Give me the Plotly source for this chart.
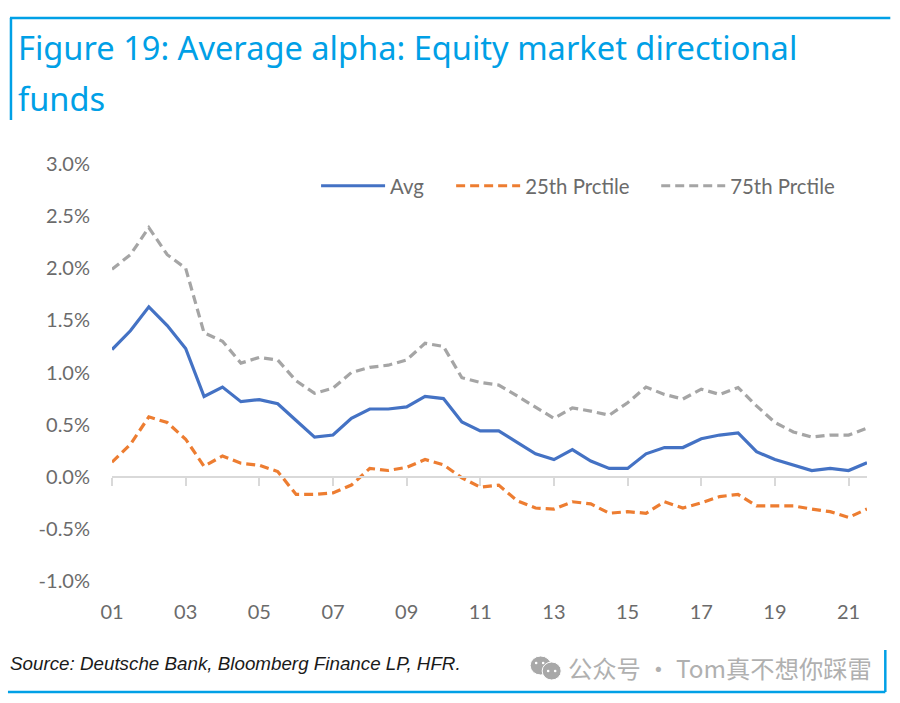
import plotly.graph_objects as go

W, H = 900, 703
L, R, T, B = 112, 33.3, 164, 122

years = [2001 + 0.5 * i for i in range(42)]
avg = [1.22, 1.40, 1.63, 1.45, 1.23, 0.77, 0.86, 0.72, 0.74, 0.70, 0.54, 0.38, 0.40, 0.56,
       0.65, 0.65, 0.67, 0.77, 0.75, 0.525, 0.44, 0.44, 0.33, 0.22, 0.165, 0.26, 0.15, 0.08,
       0.08, 0.22, 0.28, 0.28, 0.365, 0.40, 0.42, 0.24, 0.165, 0.11, 0.06, 0.08, 0.06, 0.135]
p25 = [0.14, 0.31, 0.575, 0.52, 0.36, 0.10, 0.20, 0.13, 0.11, 0.05, -0.17, -0.17, -0.155, -0.08,
       0.08, 0.06, 0.09, 0.165, 0.115, -0.01, -0.10, -0.08, -0.23, -0.30, -0.31, -0.24, -0.26, -0.35,
       -0.335, -0.35, -0.24, -0.30, -0.25, -0.19, -0.17, -0.28, -0.28, -0.28, -0.31, -0.335, -0.39, -0.31]
p75 = [1.99, 2.13, 2.39, 2.13, 2.00, 1.38, 1.30, 1.09, 1.145, 1.12, 0.92, 0.80, 0.85, 1.00,
       1.05, 1.07, 1.12, 1.28, 1.25, 0.95, 0.905, 0.88, 0.775, 0.665, 0.56, 0.66, 0.63, 0.59,
       0.71, 0.86, 0.79, 0.745, 0.84, 0.79, 0.855, 0.68, 0.52, 0.43, 0.38, 0.40, 0.40, 0.465]
tick_years = list(range(2001, 2022, 2))
tick_labels = ["01", "03", "05", "07", "09", "11", "13", "15", "17", "19", "21"]
y_ticks = [-1.0, -0.5, 0.0, 0.5, 1.0, 1.5, 2.0, 2.5, 3.0]
y_labels = ["-1.0%", "-0.5%", "0.0%", "0.5%", "1.0%", "1.5%", "2.0%", "2.5%", "3.0%"]

BLUE = "#00a0e6"
TXT = "#6b6b6b"
AXF = "Lato, Carlito, sans-serif"


def px(x):
    return (x - L) / (W - L - R)


def py(y):
    return (H - B - y) / (H - T - B)


fig = go.Figure()
fig.add_trace(go.Scatter(x=years, y=avg, name="Avg", mode="lines", legend="legend",
                         line=dict(color="#4472c4", width=3.2)))
fig.add_trace(go.Scatter(x=years, y=p25, name="25th Prctile", mode="lines", legend="legend2",
                         line=dict(color="#ed7d31", width=3.2, dash="9px,5px")))
fig.add_trace(go.Scatter(x=years, y=p75, name="75th Prctile", mode="lines", legend="legend3",
                         line=dict(color="#a5a5a5", width=3.2, dash="9px,5px")))

shapes = []
for x0, y0, x1, y1 in [(10, 18, 890, 18), (11, 18, 11, 120), (8, 692, 885, 692), (885, 650, 885, 692)]:
    shapes.append(dict(type="line", xref="paper", yref="paper", x0=px(x0), x1=px(x1), y0=py(y0), y1=py(y1),
                       line=dict(color=BLUE, width=2.5)))
# WeChat-style mark beside the watermark
for x0, y0, x1, y1 in [(530, 656, 551, 675), (542, 662, 561, 680)]:
    shapes.append(dict(type="circle", xref="paper", yref="paper", x0=px(x0), x1=px(x1), y0=py(y0), y1=py(y1),
                       fillcolor="#a8a8a8", line=dict(color="white", width=1)))
for cx, cy in [(536, 663), (543, 663), (548, 671), (555, 671)]:
    shapes.append(dict(type="circle", xref="paper", yref="paper", x0=px(cx - 1.3), x1=px(cx + 1.3),
                       y0=py(cy - 1.3), y1=py(cy + 1.3), fillcolor="white", line=dict(width=0)))

annotations = [
    dict(text="Figure 19: Average alpha: Equity market directional", x=px(16), y=py(48), xref="paper", yref="paper",
         xanchor="left", yanchor="middle", showarrow=False, font=dict(family="Noto Sans", size=32.6, color=BLUE)),
    dict(text="funds", x=px(16), y=py(98), xref="paper", yref="paper",
         xanchor="left", yanchor="middle", showarrow=False, font=dict(family="Noto Sans", size=32.6, color=BLUE)),
    dict(text="<i>Source: Deutsche Bank, Bloomberg Finance LP, HFR.</i>", x=px(8), y=py(663), xref="paper", yref="paper",
         xanchor="left", yanchor="middle", showarrow=False,
         font=dict(family="Liberation Sans", size=18.8, color="#1a1a1a")),
    dict(text="公众号 · Tom真不想你踩雷", x=px(566), y=py(667), xref="paper", yref="paper",
         xanchor="left", yanchor="middle", showarrow=False,
         font=dict(family="Noto Sans CJK SC", size=24.3, color="#b0b0b0")),
]


def legend_at(x, size=20.4):
    return dict(orientation="h", x=px(x), y=py(186), xanchor="left", yanchor="middle",
                font=dict(family=AXF, size=size, color=TXT), itemwidth=64, bgcolor="rgba(0,0,0,0)")


fig.update_layout(
    width=W, height=H, autosize=False,
    margin=dict(l=L, r=R, t=T, b=B, pad=0),
    paper_bgcolor="white", plot_bgcolor="white",
    shapes=shapes, annotations=annotations,
    showlegend=True,
    legend=legend_at(316), legend2=legend_at(451), legend3=legend_at(656),
    xaxis=dict(range=[2001, 2021.5], tickmode="array", tickvals=tick_years, ticktext=tick_labels,
               anchor="free", position=0.25, side="bottom",
               showline=True, linecolor="#d9d9d9", linewidth=1.5, ticks="outside", ticklen=8,
               tickcolor="#d9d9d9", tickwidth=1.5, showgrid=False, zeroline=False,
               ticklabelstandoff=109, tickfont=dict(family=AXF, size=20, color=TXT)),
    yaxis=dict(range=[-1, 3], tickmode="array", tickvals=y_ticks, ticktext=y_labels,
               showgrid=False, zeroline=False, showline=False, ticks="", ticklabelstandoff=21,
               tickfont=dict(family=AXF, size=20, color=TXT)),
)

fig.write_html("out.html", config={"displayModeBar": False},
               post_script="document.body.style.margin='0';document.body.style.overflow='hidden';")
